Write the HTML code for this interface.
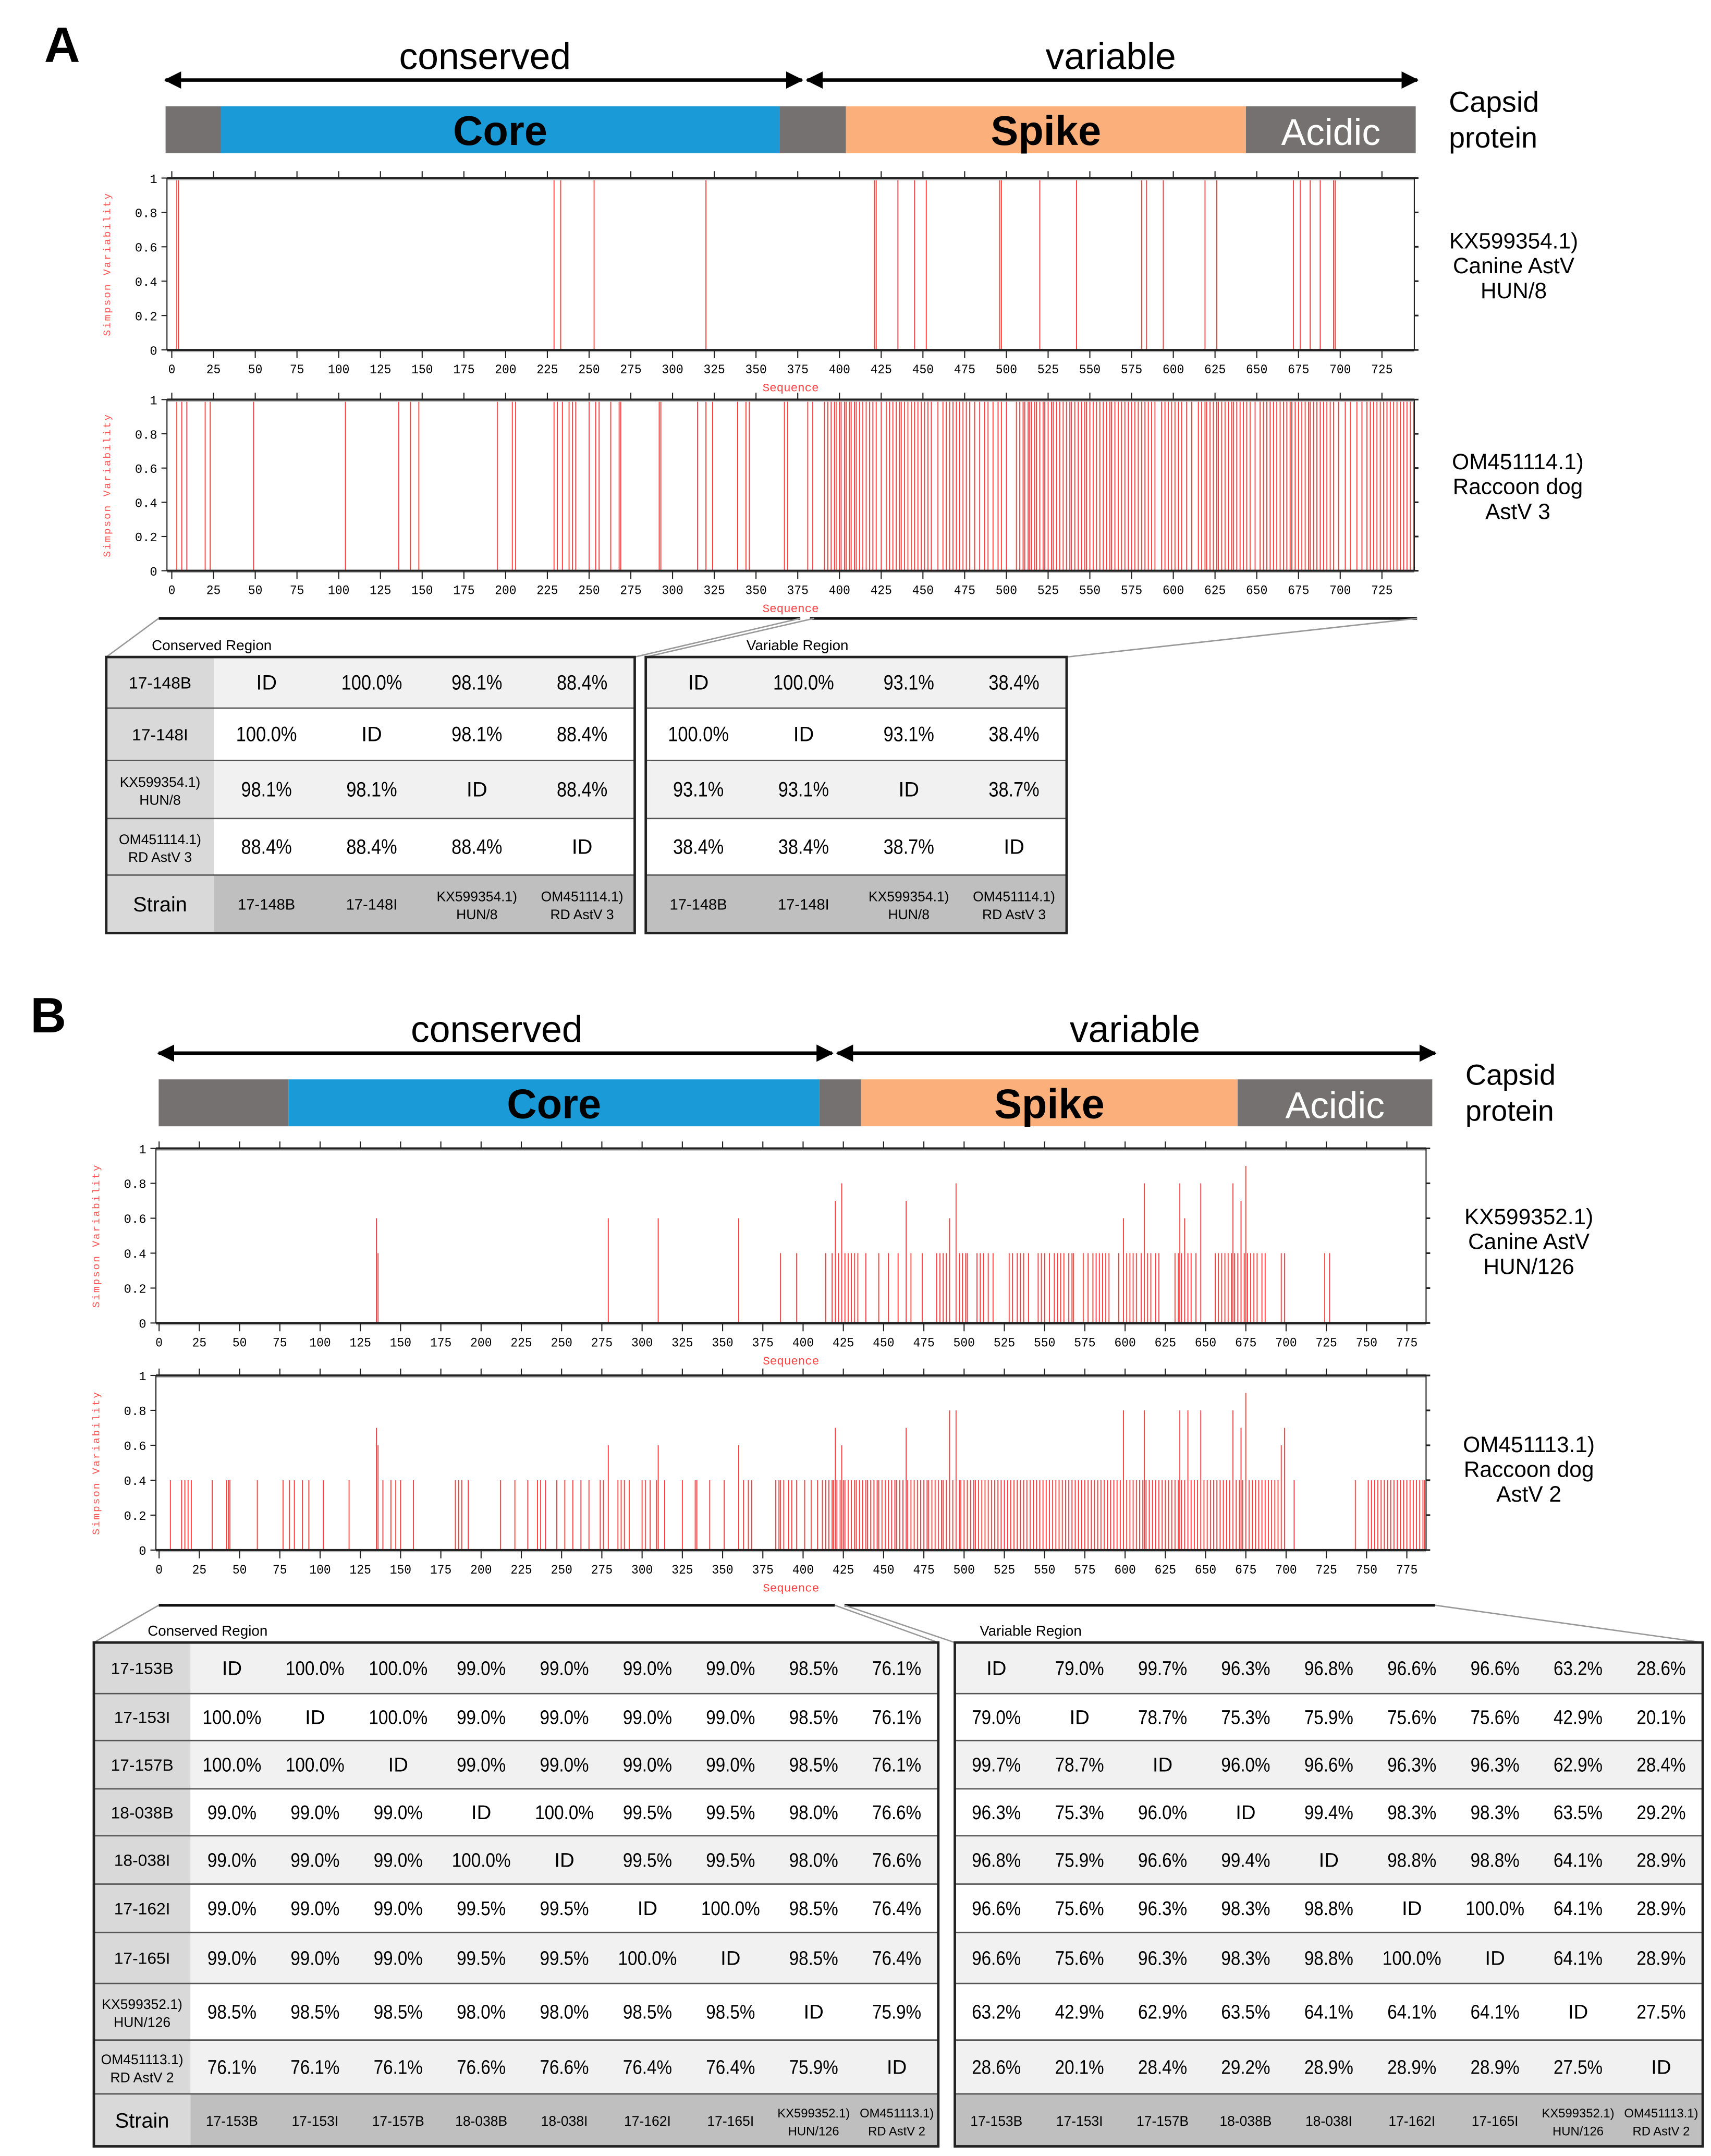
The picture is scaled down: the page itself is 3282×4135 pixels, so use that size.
<!DOCTYPE html>
<html><head><meta charset="utf-8">
<style>
html,body{margin:0;padding:0;background:#fff;}
svg{display:block;}
text{font-family:"Liberation Sans",sans-serif;}
.mono{font-family:"Liberation Mono",monospace;}
</style></head>
<body>
<svg id="fig" xmlns="http://www.w3.org/2000/svg" width="3282" height="4135" viewBox="0 0 1240 1562" preserveAspectRatio="none">
<defs>
<marker id="ah" viewBox="0 0 10 10" refX="9" refY="5" markerWidth="5" markerHeight="5" orient="auto-start-reverse"><path d="M0,0 L10,5 L0,10 z" fill="#000"/></marker>
</defs>
<rect x="0" y="0" width="1240" height="1562" fill="#fff"/>
<g id="root"></g>
</svg>
<script>
// ---------- DATA ----------
const xTicksA = [0,25,50,75,100,125,150,175,200,225,250,275,300,325,350,375,400,425,450,475,500,525,550,575,600,625,650,675,700,725];
const xTicksB = [0,25,50,75,100,125,150,175,200,225,250,275,300,325,350,375,400,425,450,475,500,525,550,575,600,625,650,675,700,725,750,775];
const yTicks = [0,0.2,0.4,0.6,0.8,1];
const yTickLabels = ["0","0.2","0.4","0.6","0.8","1"];

const a1Positions = [3,4,229,233,253,320,421,422,435,445,452,496,497,520,542,581,584,594,619,626,672,676,682,688,696,697];
const a1Values = a1Positions.map(()=>1);

const a2Positions = [3,6,9,20,23,49,104,136,143,148,195,204,206,229,231,234,238,240,242,250,254,256,263,268,269,292,293,315,320,324,339,344,346,367,369,381,384,
391,393,395,397,398,400,401,403,404,406,407,409,410,412,414,416,418,420,422,425,428,430,432,434,436,437,439,441,443,445,447,449,451,453,455,459,462,464,466,468,470,472,474,476,478,481,484,487,489,492,495,497,500,506,508,510,511,513,514,515,517,518,520,522,523,525,527,528,530,532,534,536,538,539,541,543,545,547,548,550,552,554,556,558,560,562,563,565,567,569,571,573,575,577,579,581,583,585,587,589,593,595,597,599,601,603,605,608,611,615,617,619,620,622,624,626,627,629,631,633,635,636,638,640,642,644,646,649,652,654,656,658,660,662,664,666,668,670,671,673,675,677,679,681,682,684,686,688,690,692,694,696,699,703,706,710,713,716,718,720,722,724,726,728,730,732,734,736,738,740,742,744];
const a2Values = a2Positions.map(()=>1);

const b1BasePositions = [386,396,414,418,422,426,428,430,432,434,439,447,453,459,467,474,483,485,487,489,497,499,501,502,508,510,512,515,518,528,530,533,535,537,540,546,548,550,553,556,558,560,562,565,567,568,574,577,580,582,584,586,588,590,596,601,603,605,607,610,614,616,619,621,631,633,635,639,641,644,656,658,660,662,664,666,668,670,674,676,678,680,682,685,687,697,699,724,727];
const b1SpikePositions = [135,136,279,310,360,420,424,464,491,495,599,612,634,637,647,667,672,675];
const b1SpikeValues = [0.6,0.4,0.6,0.6,0.6,0.7,0.8,0.7,0.6,0.8,0.6,0.8,0.8,0.6,0.8,0.8,0.7,0.9];

const b2BasePositions = [7,14,16,18,20,33,42,43,44,61,77,81,84,89,93,102,118,139,144,147,150,158,184,186,188,192,212,221,229,235,237,240,247,252,257,262,267,274,276,285,287,289,292,300,302,305,309,314,325,333,334,342,351,363,366,368,
383,385,386,388,391,393,396,401,405,409,412,414,416,418,419,421,423,425,426,428,430,432,433,435,437,439,440,442,444,446,447,449,451,453,455,457,458,460,462,465,467,469,471,473,475,477,478,480,482,484,486,487,489,493,497,498,500,502,504,506,507,509,511,513,515,517,519,521,523,525,527,529,531,533,535,537,539,541,543,545,547,549,551,553,555,557,559,561,563,565,567,569,571,573,575,577,579,581,583,585,587,589,591,593,595,597,601,603,605,607,609,611,613,615,617,619,621,623,625,627,629,631,633,635,637,641,643,645,649,651,653,655,657,659,661,663,665,669,671,673,677,679,681,683,685,687,689,691,693,695,705,743,751,753,755,757,759,761,763,765,767,769,771,773,775,777,779,781,783,785,786];
const b2SpikePositions = [135,136,279,310,360,420,424,464,491,495,599,612,634,639,647,667,672,675,697,699];
const b2SpikeValues = [0.7,0.6,0.6,0.6,0.6,0.7,0.6,0.7,0.8,0.8,0.8,0.8,0.8,0.8,0.8,0.8,0.7,0.9,0.6,0.7];

const tableARowLabels = [["17-148B"],["17-148I"],["KX599354.1)","HUN/8"],["OM451114.1)","RD AstV 3"]];
const tableAStrains = [["17-148B"],["17-148I"],["KX599354.1)","HUN/8"],["OM451114.1)","RD AstV 3"]];
const tableAConserved = [["ID","100.0%","98.1%","88.4%"],["100.0%","ID","98.1%","88.4%"],["98.1%","98.1%","ID","88.4%"],["88.4%","88.4%","88.4%","ID"]];
const tableAVariable = [["ID","100.0%","93.1%","38.4%"],["100.0%","ID","93.1%","38.4%"],["93.1%","93.1%","ID","38.7%"],["38.4%","38.4%","38.7%","ID"]];

const tableBRowLabels = [["17-153B"],["17-153I"],["17-157B"],["18-038B"],["18-038I"],["17-162I"],["17-165I"],["KX599352.1)","HUN/126"],["OM451113.1)","RD AstV 2"]];
const tableBStrains = tableBRowLabels;
const tableBConserved = [
["ID","100.0%","100.0%","99.0%","99.0%","99.0%","99.0%","98.5%","76.1%"],
["100.0%","ID","100.0%","99.0%","99.0%","99.0%","99.0%","98.5%","76.1%"],
["100.0%","100.0%","ID","99.0%","99.0%","99.0%","99.0%","98.5%","76.1%"],
["99.0%","99.0%","99.0%","ID","100.0%","99.5%","99.5%","98.0%","76.6%"],
["99.0%","99.0%","99.0%","100.0%","ID","99.5%","99.5%","98.0%","76.6%"],
["99.0%","99.0%","99.0%","99.5%","99.5%","ID","100.0%","98.5%","76.4%"],
["99.0%","99.0%","99.0%","99.5%","99.5%","100.0%","ID","98.5%","76.4%"],
["98.5%","98.5%","98.5%","98.0%","98.0%","98.5%","98.5%","ID","75.9%"],
["76.1%","76.1%","76.1%","76.6%","76.6%","76.4%","76.4%","75.9%","ID"]];
const tableBVariable = [
["ID","79.0%","99.7%","96.3%","96.8%","96.6%","96.6%","63.2%","28.6%"],
["79.0%","ID","78.7%","75.3%","75.9%","75.6%","75.6%","42.9%","20.1%"],
["99.7%","78.7%","ID","96.0%","96.6%","96.3%","96.3%","62.9%","28.4%"],
["96.3%","75.3%","96.0%","ID","99.4%","98.3%","98.3%","63.5%","29.2%"],
["96.8%","75.9%","96.6%","99.4%","ID","98.8%","98.8%","64.1%","28.9%"],
["96.6%","75.6%","96.3%","98.3%","98.8%","ID","100.0%","64.1%","28.9%"],
["96.6%","75.6%","96.3%","98.3%","98.8%","100.0%","ID","64.1%","28.9%"],
["63.2%","42.9%","62.9%","63.5%","64.1%","64.1%","64.1%","ID","27.5%"],
["28.6%","20.1%","28.4%","29.2%","28.9%","28.9%","28.9%","27.5%","ID"]];

// ---------- HELPERS ----------
const NS="http://www.w3.org/2000/svg";
const root=document.getElementById('root');
function mk(tag,attrs,parent,name){
  const el=document.createElementNS(NS,tag);
  for(const k in attrs) el.setAttribute(k,attrs[k]);
  
  
  (parent||root).appendChild(el);
  return el;
}
function txt(x,y,s,size,attrs,parent,name){
  const a=Object.assign({x:x,y:y,'font-size':size,'text-anchor':'middle'},attrs||{});
  const el=mk('text',a,parent,name);
  el.textContent=s;
  return el;
}

// ---------- HEADER (domain bar) ----------
function header(cfg){
  const g=mk('g',{},root,cfg.name);
  txt(cfg.letterX,cfg.letterY,cfg.letter,36,{'font-weight':'bold','text-anchor':'start'},g,'panel-letter');
  mk('line',{x1:cfg.a0,y1:cfg.ay,x2:cfg.am-2,y2:cfg.ay,stroke:'#000','stroke-width':2.5,'marker-start':'url(#ah)','marker-end':'url(#ah)'},g,'conserved-arrow');
  mk('line',{x1:cfg.am+2,y1:cfg.ay,x2:cfg.a1,y2:cfg.ay,stroke:'#000','stroke-width':2.5,'marker-start':'url(#ah)','marker-end':'url(#ah)'},g,'variable-arrow');
  txt((cfg.a0+cfg.am)/2,cfg.ay-8,'conserved',27,{},g,'conserved-label');
  txt((cfg.am+cfg.a1)/2,cfg.ay-8,'variable',27,{},g,'variable-label');
  const segs=cfg.segs;
  segs.forEach(s=>{
    mk('rect',{x:s[0],y:cfg.by,width:s[1]-s[0],height:cfg.bh,fill:s[2]},g,s[4]||'domain-segment');
    if(s[3]) txt((s[0]+s[1])/2,cfg.by+cfg.bh/2+11,s[3],s[3]==='Acidic'?27:30,{'font-weight':s[3]==='Acidic'?'normal':'bold',fill:s[3]==='Acidic'?'#fff':'#000'},g,s[4]+'-label');
  });
  txt(cfg.cx,cfg.by+4,'Capsid',21,{'text-anchor':'start'},g,'capsid-label');
  txt(cfg.cx,cfg.by+30,'protein',21,{'text-anchor':'start'},g,'capsid-label-2');
}
header({name:'panel-a-header',letter:'A',letterX:32,letterY:45,a0:120,am:583,a1:1027,ay:58,by:77,bh:34,cx:1050,
  segs:[[120,160,'#767171',null,'n-term'],[160,565,'#1a9bd7','Core','core-domain'],[565,613,'#767171',null,'linker'],[613,903,'#fbb07b','Spike','spike-domain'],[903,1026,'#767171','Acidic','acidic-domain']]});
header({name:'panel-b-header',letter:'B',letterX:22,letterY:748,a0:115,am:605,a1:1040,ay:763,by:782,bh:34,cx:1062,
  segs:[[115,209,'#767171',null,'n-term'],[209,594,'#1a9bd7','Core','core-domain'],[594,624,'#767171',null,'linker'],[624,897,'#fbb07b','Spike','spike-domain'],[897,1038,'#767171','Acidic','acidic-domain']]});

// ---------- CHARTS ----------
function chart(cfg){
  const g=mk('g',{},root,cfg.name);
  const xs=v=>cfg.x0+v*cfg.unit;
  const ys=v=>cfg.bottom-v*(cfg.bottom-cfg.top);
  const bars=mk('g',{},g,'bars');
  cfg.series.forEach(sr=>{
    sr.pos.forEach((p,i)=>{
      mk('line',{x1:xs(p),x2:xs(p),y1:ys(0),y2:ys(sr.vals[i]),stroke:'#ff3b3b','stroke-width':0.7},bars,'variability-bar');
    });
  });
  mk('line',{x1:cfg.left,x2:cfg.right,y1:cfg.top+1,y2:cfg.top+1,stroke:'#bbb','stroke-width':1.2},g,'top-shadow');
  mk('line',{x1:cfg.left,x2:cfg.right,y1:cfg.bottom+1,y2:cfg.bottom+1,stroke:'#bbb','stroke-width':1.2},g,'bottom-shadow');
  mk('line',{x1:cfg.left,x2:cfg.right,y1:cfg.top,y2:cfg.top,stroke:'#222','stroke-width':1.5},g,'top-axis');
  mk('line',{x1:cfg.left,x2:cfg.right,y1:cfg.bottom,y2:cfg.bottom,stroke:'#222','stroke-width':1.5},g,'x-axis');
  mk('line',{x1:cfg.left,x2:cfg.left,y1:cfg.top,y2:cfg.bottom,stroke:'#222','stroke-width':0.8},g,'y-axis');
  mk('line',{x1:cfg.right,x2:cfg.right,y1:cfg.top,y2:cfg.bottom,stroke:'#222','stroke-width':0.8},g,'right-axis');
  cfg.ticks.forEach(t=>{
    mk('line',{x1:xs(t),x2:xs(t),y1:cfg.bottom,y2:cfg.bottom+6,stroke:'#222','stroke-width':0.8},g,'x-tick');
    mk('line',{x1:xs(t),x2:xs(t),y1:cfg.top,y2:cfg.top-5,stroke:'#222','stroke-width':0.8},g,'x-tick-top');
    txt(xs(t),cfg.bottom+17,String(t),9.5,{'class':'mono','textLength':String(t).length*5.2,'lengthAdjust':'spacingAndGlyphs'},g,'x-tick-label');
  });
  yTicks.forEach((t,i)=>{
    mk('line',{x1:cfg.left-4,x2:cfg.left,y1:ys(t),y2:ys(t),stroke:'#222','stroke-width':0.8},g,'y-tick');
    mk('line',{x1:cfg.right,x2:cfg.right+3,y1:ys(t),y2:ys(t),stroke:'#222','stroke-width':1.2},g,'y-tick-right');
    txt(cfg.left-7,ys(t)+3.5,yTickLabels[i],9,{'class':'mono','text-anchor':'end'},g,'y-tick-label');
  });
  txt((cfg.left+cfg.right)/2,cfg.bottom+30,'Sequence',8.5,{'class':'mono',fill:'#ff4040'},g,'x-axis-title');
  const cy=(cfg.top+cfg.bottom)/2;
  txt(cfg.left-41,cy,'Simpson Variability',7.5,{'class':'mono',fill:'#ff5050',transform:'rotate(-90 '+(cfg.left-41)+' '+cy+')','letter-spacing':'1'},g,'y-axis-title');
  cfg.label.forEach((l,i)=>txt(cfg.lx,cfg.ly+i*18,l,16,{},g,'strain-label'));
}
chart({name:'chart-a1-kx599354',x0:124.5,unit:1.2097,left:121,right:1025,top:129,bottom:253.5,ticks:xTicksA,
  series:[{pos:a1Positions,vals:a1Values}],label:['KX599354.1)','Canine AstV','HUN/8'],lx:1097,ly:180});
chart({name:'chart-a2-om451114',x0:124.5,unit:1.2097,left:121,right:1025,top:289.5,bottom:413.5,ticks:xTicksA,
  series:[{pos:a2Positions,vals:a2Values}],label:['OM451114.1)','Raccoon dog','AstV 3'],lx:1100,ly:340});
chart({name:'chart-b1-kx599352',x0:115.3,unit:1.1668,left:113,right:1033.5,top:832,bottom:958.5,ticks:xTicksB,
  series:[{pos:b1BasePositions,vals:b1BasePositions.map(()=>0.4)},{pos:b1SpikePositions,vals:b1SpikeValues}],label:['KX599352.1)','Canine AstV','HUN/126'],lx:1108,ly:887});
chart({name:'chart-b2-om451113',x0:115.3,unit:1.1668,left:113,right:1033.5,top:996.5,bottom:1123,ticks:xTicksB,
  series:[{pos:b2BasePositions,vals:b2BasePositions.map(()=>0.4)},{pos:b2SpikePositions,vals:b2SpikeValues}],label:['OM451113.1)','Raccoon dog','AstV 2'],lx:1108,ly:1052});

// ---------- CONNECTORS ----------
function connectors(segs,lines,name){
  const g=mk('g',{},root,name);
  segs.forEach(s=>mk('line',{x1:s[0],x2:s[1],y1:s[2],y2:s[2],stroke:'#111','stroke-width':2},g,'region-bracket'));
  lines.forEach(l=>mk('line',{x1:l[0],y1:l[1],x2:l[2],y2:l[3],stroke:'#999','stroke-width':1},g,'zoom-connector'));
}
connectors([[115,580,448],[587,1027,448]],[[77,476,115,448],[460,476,580,448],[468,476,590,448],[773,476,1027,448]],'panel-a-connectors');
connectors([[115,605,1163],[612,1040,1163]],[[68,1190,115,1163],[680,1190,605,1163],[692,1190,612,1163],[1234,1190,1040,1163]],'panel-b-connectors');

// ---------- TABLES ----------
function table(cfg){
  const g=mk('g',{},root,cfg.name);
  txt(cfg.titleX,cfg.y-5,cfg.title,10.5,{'text-anchor':'start'},g,'table-title');
  const nR=cfg.rows.length+1;
  const hasLab=!!cfg.labels;
  const x1=cfg.x+(hasLab?cfg.labW:0);
  const nC=cfg.rows[0].length;
  const cw=(cfg.w-(hasLab?cfg.labW:0))/nC;
  for(let r=0;r<nR;r++){
    const y0=cfg.rb[r], y1=cfg.rb[r+1], h=y1-y0, cy=(y0+y1)/2;
    const last=r===nR-1;
    const bg= last?'#bfbfbf':(r%2===0?'#f1f1f1':'#ffffff');
    mk('rect',{x:x1,y:y0,width:cfg.x+cfg.w-x1,height:h,fill:bg},g,last?'strain-row':'table-row');
    if(hasLab){
      mk('rect',{x:cfg.x,y:y0,width:cfg.labW,height:h,fill:'#d9d9d9'},g,'row-header-cell');
      const lab= last?['Strain']:cfg.labels[r];
      const fs= last?15:(lab.length>1?10:12);
      if(lab.length===1) txt(cfg.x+cfg.labW/2,cy+fs*0.36,lab[0],fs,{},g,'row-header');
      else {txt(cfg.x+cfg.labW/2,cy-2,lab[0],fs,{},g,'row-header');txt(cfg.x+cfg.labW/2,cy+11,lab[1],fs,{},g,'row-header');}
    }
    for(let c=0;c<nC;c++){
      const cx=x1+cw*(c+0.5);
      if(!last) {
        const s=cfg.rows[r][c];
        const el=txt(cx,cy+5,s,cfg.fs,{},g,'identity-cell');
        if(s.length>=5) { el.setAttribute('textLength', s.length*cfg.fs*0.49); el.setAttribute('lengthAdjust','spacingAndGlyphs'); }
      }
      else {
        const s=cfg.strains[c];
        if(s.length===1) txt(cx,cy+4,s[0],cfg.sfs+1,{},g,'strain-header');
        else {
          const e1=txt(cx,cy-2,s[0],cfg.sfs,{},g,'strain-header');
          if(s[0].length*cfg.sfs*0.55>cw-4){ e1.setAttribute('textLength', cw-4); e1.setAttribute('lengthAdjust','spacingAndGlyphs'); }
          txt(cx,cy+11,s[1],cfg.sfs,{},g,'strain-header');
        }
      }
    }
    if(r>0) mk('line',{x1:cfg.x,x2:cfg.x+cfg.w,y1:y0,y2:y0,stroke:'#555','stroke-width':1},g,'row-separator');
  }
  mk('rect',{x:cfg.x,y:cfg.rb[0],width:cfg.w,height:cfg.rb[nR]-cfg.rb[0],fill:'none',stroke:'#222','stroke-width':1.8},g,'table-border');
}
const rbA=[476,513,551,593,634,676];
table({name:'table-a-conserved',title:'Conserved Region',titleX:110,x:77,y:476,w:383,labW:78,rb:rbA,labels:tableARowLabels,rows:tableAConserved,strains:tableAStrains,fs:15,sfs:10});
table({name:'table-a-variable',title:'Variable Region',titleX:541,x:468,y:476,w:305,rb:rbA,rows:tableAVariable,strains:tableAStrains,fs:15,sfs:10});
const rbB=[1190,1227,1261,1296,1330,1365,1400,1437,1478,1517,1555];
table({name:'table-b-conserved',title:'Conserved Region',titleX:107,x:68,y:1190,w:612,labW:70,rb:rbB,labels:tableBRowLabels,rows:tableBConserved,strains:tableBStrains,fs:14.5,sfs:9});
table({name:'table-b-variable',title:'Variable Region',titleX:710,x:692,y:1190,w:542,rb:rbB,rows:tableBVariable,strains:tableBStrains,fs:14.5,sfs:9});
</script>
</body></html>
